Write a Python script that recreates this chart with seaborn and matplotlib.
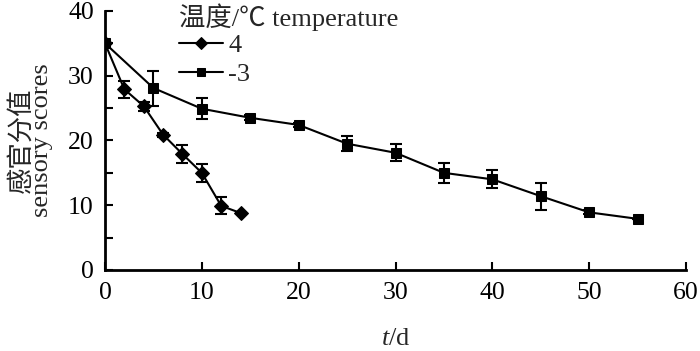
import numpy as np
import pandas as pd
import matplotlib
matplotlib.use("Agg")
import matplotlib.pyplot as plt
import seaborn as sns
from matplotlib.ticker import MultipleLocator

# 4 degC series
days_4 = [0, 2, 4, 6, 8, 10, 12, 14]
score_4 = [35.0, 27.9, 25.3, 20.9, 17.9, 15.0, 9.9, 8.8]
err_4 = [0.4, 1.3, 0.7, 0.3, 1.4, 1.4, 1.3, 0.0]

# -3 degC series
days_m3 = [0, 5, 10, 15, 20, 25, 30, 35, 40, 45, 50, 55]
score_m3 = [35.0, 28.1, 24.9, 23.5, 22.4, 19.5, 18.1, 15.0, 14.0, 11.4, 8.9, 7.9]
err_m3 = [0.3, 2.7, 1.6, 0.4, 0.3, 1.2, 1.3, 1.5, 1.4, 2.1, 0.3, 0.0]

labels = ["4", "-3"]

sns.set_style("ticks")
plt.rcParams["font.family"] = ["Liberation Serif", "Noto Sans CJK SC"]
plt.rcParams["mathtext.fontset"] = "custom"
plt.rcParams["mathtext.it"] = "Liberation Serif:italic"
plt.rcParams["mathtext.rm"] = "Liberation Serif"

df = pd.concat([
    pd.DataFrame({"t": days_4, "score": score_4, "err": err_4, "temp": labels[0]}),
    pd.DataFrame({"t": days_m3, "score": score_m3, "err": err_m3, "temp": labels[1]}),
])

fig = plt.figure(figsize=(7, 3.51), dpi=100)
ax = fig.add_axes([0.15, 0.2308, 0.83, 0.738])

markers = {"4": "D", "-3": "s"}
for lab in labels:
    sub = df[df["temp"] == lab]
    ax.errorbar(sub["t"], sub["score"], yerr=sub["err"], fmt="none",
                ecolor="black", elinewidth=1.5, capsize=4, capthick=1.5, zorder=2)

sns.lineplot(data=df, x="t", y="score", hue="temp", style="temp",
             hue_order=labels, style_order=labels,
             palette={"4": "black", "-3": "black"}, markers=markers, dashes=False,
             markersize=7.5, markeredgecolor="black", linewidth=1.5, ax=ax, zorder=3)

ax.set_xlim(0, 60)
ax.set_ylim(0, 40)
ax.xaxis.set_major_locator(MultipleLocator(10))
ax.yaxis.set_major_locator(MultipleLocator(10))
ax.yaxis.set_minor_locator(MultipleLocator(5))
ax.tick_params(axis="both", which="both", direction="in", width=1.5, labelsize=18.5, colors="black")
ax.tick_params(which="both", length=6)
ax.tick_params(axis="x", pad=9)
ax.tick_params(axis="y", pad=8)
for s in ["top", "right"]:
    ax.spines[s].set_visible(False)
for s in ["left", "bottom"]:
    ax.spines[s].set_linewidth(2)
    ax.spines[s].set_color("black")

ax.set_xlabel(r"$t$/d", fontsize=19, labelpad=17)
ax.set_ylabel("感官分值\nsensory scores", fontsize=19, linespacing=0.85, labelpad=11)

leg = ax.legend(title="温度/℃ temperature", loc="upper left", bbox_to_anchor=(0.128, 1.03),
                frameon=False, fontsize=19, title_fontsize=19, handlelength=1.65,
                labelspacing=0.2, borderaxespad=0, handletextpad=0.2, borderpad=0)
leg._legend_box.align = "left"
leg._legend_box.sep = 2
for h in leg.legend_handles:
    h.set_markersize(6)

fig.savefig("out.png", dpi=100)
